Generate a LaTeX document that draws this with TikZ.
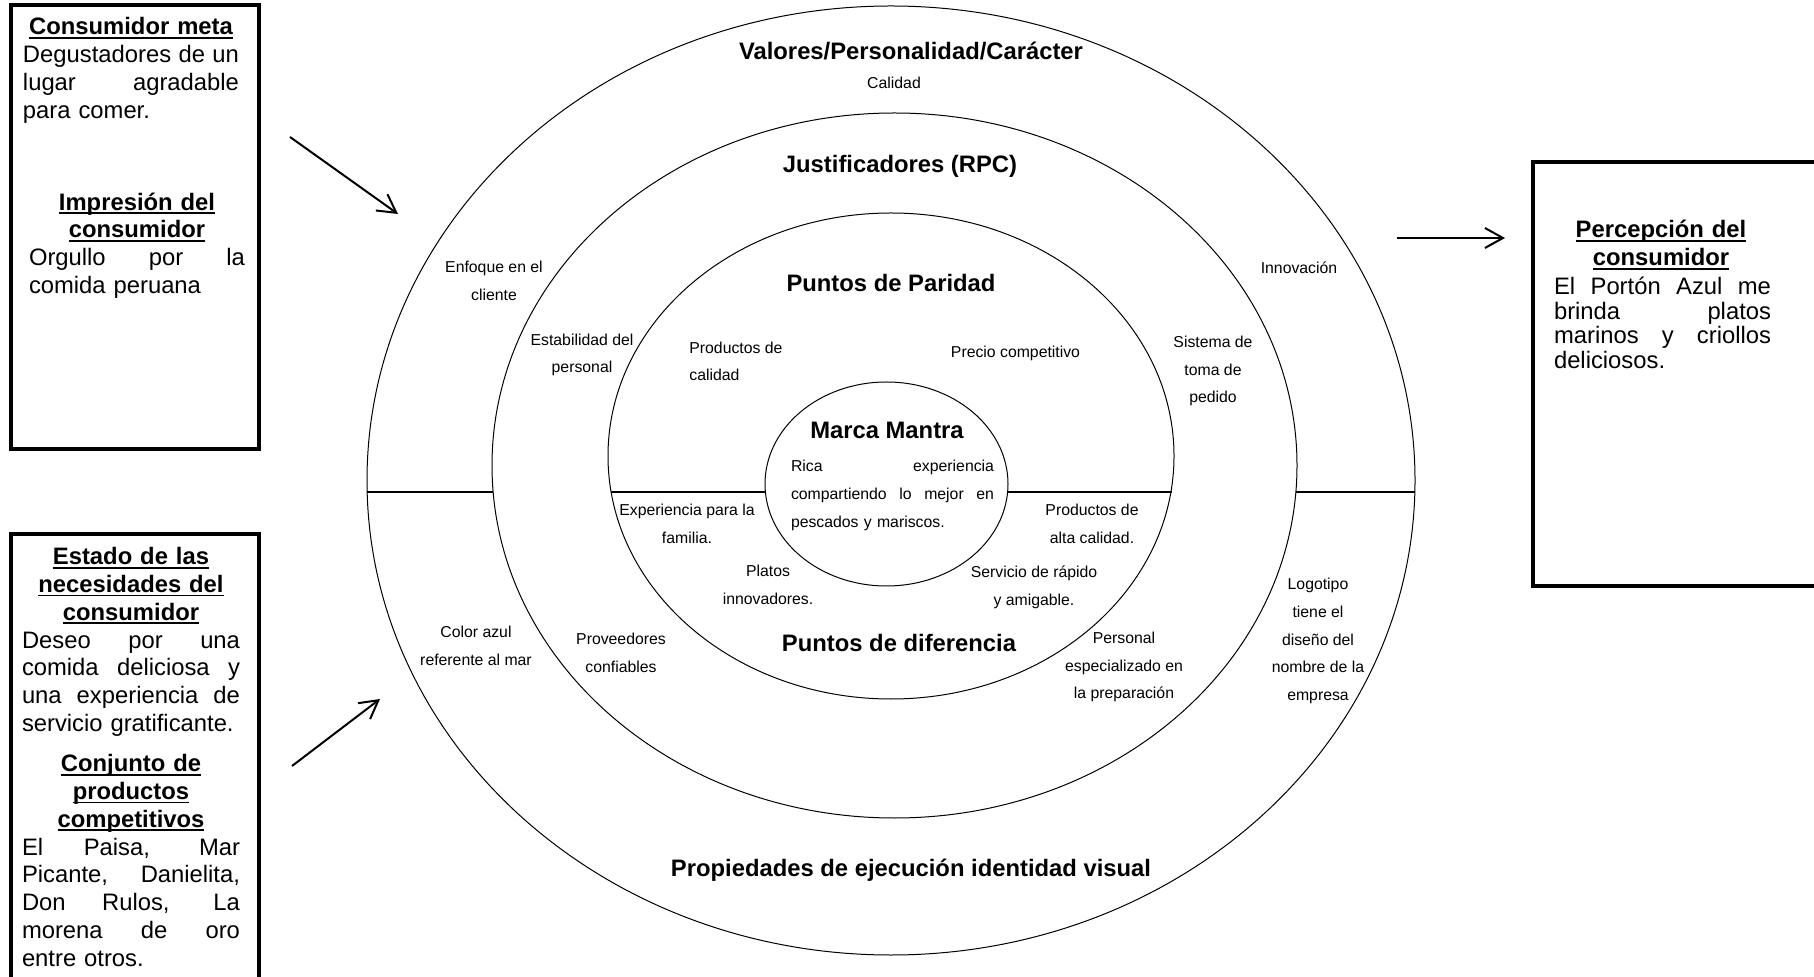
\documentclass[tikz,border=0pt]{standalone}
\usepackage{fontspec}
\setmainfont{Liberation Sans}
\usetikzlibrary{arrows.meta}

\newcommand{\subr}[1]{\setbox0=\hbox{#1}\rlap{\rule[-1.9pt]{\wd0}{0.9pt}}\box0}
\newcommand{\hd}[1]{\makebox[\linewidth][c]{\bfseries\subr{#1}}}
\newcommand{\jl}[1]{{\spaceskip=0pt\xspaceskip=0pt\makebox[\linewidth][s]{#1}}}

\begin{document}
\begin{tikzpicture}[
        x=0.5pt, y=-0.5pt,
        ring/.style={draw, line width=0.5pt},
        cut/.style={draw, line width=0.8pt},
        frame/.style={draw, line width=2.2pt, inner sep=0pt},
        title/.style={font=\fontsize{11.9}{13.9}\selectfont\bfseries, inner sep=0pt},
        small/.style={font=\fontsize{7.9}{13.85}\selectfont, align=center, inner sep=0pt},
        boxtext/.style={font=\fontsize{11.9}{13.9}\selectfont, text width=108pt, align=left, inner sep=0pt},
        arr/.style={-{Straight Barb[length=9pt, width=10pt]}, line width=1pt}
    ]
        \useasboundingbox (0,0) rectangle (1814,977);

        \draw[ring] (891,480.5) ellipse [x radius=262pt, y radius=237.25pt];
        \draw[ring] (894.5,465.5) ellipse [x radius=201.25pt, y radius=176.25pt];
        \draw[ring] (891,456) ellipse [x radius=141.5pt, y radius=121.5pt];
        \draw[ring] (886.5,484) ellipse [x radius=60.75pt, y radius=51pt];

        \coordinate (c1) at (367,492);
        \coordinate (c2) at (493,492);
        \coordinate (c3) at (611,492);
        \coordinate (c4) at (765.4,492);
        \coordinate (c5) at (1007.6,492);
        \coordinate (c6) at (1172,492);
        \coordinate (c7) at (1296,492);
        \coordinate (c8) at (1415,492);
        \draw[cut] (c1) -- (c2);
        \draw[cut] (c3) -- (c4);
        \draw[cut] (c5) -- (c6);
        \draw[cut] (c7) -- (c8);

        \node[title] (valores) at (911,51) {Valores/Personalidad/Carácter};
        \node[small] (calidad) at (894,83) {Calidad};
        \node[title] (justif) at (900,166) {Justificadores (RPC)};
        \node[title] (paridad) at (891,283) {Puntos de Paridad};
        \node[title] (mantra) at (887,430) {Marca Mantra};
        \node[title] (diferencia) at (899,643) {Puntos de diferencia};
        \node[title] (ejecucion) at (911,870) {Propiedades de ejecución identidad visual};

        \node[small] (enfoque) at (494,281) {Enfoque en el\\cliente};
        \node[small] (innovacion) at (1299,268) {Innovación};
        \node[small] (color) at (476,646) {Color azul\\referente al mar};
        \node[small] (logotipo) at (1318,641) {Logotipo\\tiene el\\diseño del\\nombre de la\\empresa};
        \node[small] (estabilidad) at (582,355) {Estabilidad del\\personal};
        \node[small] (sistema) at (1213,371) {Sistema de\\toma de\\pedido};
        \node[small] (proveedores) at (621,653) {Proveedores\\confiables};
        \node[small] (personal) at (1124,667) {Personal\\especializado en\\la preparación};
        \node[small, align=left, anchor=west] (prodcal) at (689,361.5) {Productos de\\calidad};
        \node[small] (precio) at (1015.5,353) {Precio competitivo};
        \node[small] (familia) at (687,524) {Experiencia para la\\familia.};
        \node[small] (platos) at (768,585) {Platos\\innovadores.};
        \node[small] (altacal) at (1092,524) {Productos de\\alta calidad.};
        \node[small] (servicio) at (1034,587) {Servicio de rápido\\y amigable.};
        \node[small, text width=101.5pt, align=left] (mantratxt) at (892.5,495.5)
            {\jl{Rica experiencia}\\\jl{compartiendo lo mejor en}\\pescados y mariscos.};

        \node[frame, minimum width=124pt, minimum height=222pt] (boxmeta) at (135,227) {};
        \node[frame, minimum width=124pt, minimum height=238pt] (boxestado) at (135,772) {};
        \node[frame, minimum width=153.5pt, minimum height=212pt] (boxpercep) at (1686.5,374) {};

        \node[boxtext] (meta) at (131,70.5)
            {\hd{Consumidor meta}\\\jl{Degustadores de un}\\\jl{lugar agradable}\\para comer.};
        \node[boxtext] (impresion) at (137,245.5)
            {\hd{Impresión del}\\\hd{consumidor}\\\jl{Orgullo por la}\\comida peruana};
        \node[boxtext, text width=109pt] (necesidades) at (131,642)
            {\hd{Estado de las}\\\hd{necesidades del}\\\hd{consumidor}\\\jl{Deseo por una}\\\jl{comida deliciosa y}\\\jl{una experiencia de}\\servicio gratificante.};
        \node[boxtext, text width=109pt] (competidores) at (131,860.5)
            {\hd{Conjunto de}\\\hd{productos}\\\hd{competitivos}\\\jl{El Paisa, Mar}\\\jl{Picante, Danielita,}\\\jl{Don Rulos, La}\\\jl{morena de oro}\\entre otros.};
        \node[boxtext, text width=108.5pt] (percephd) at (1661,245)
            {\hd{Percepción del}\\\hd{consumidor}};
        \node[boxtext, text width=108.5pt, font=\fontsize{11.9}{12.35}\selectfont] (percep) at (1662.5,323)
            {\jl{El Portón Azul me}\\\jl{brinda platos}\\\jl{marinos y criollos}\\deliciosos.};

        \coordinate (a1) at (290,137);
        \coordinate (b1) at (398,214);
        \coordinate (a2) at (292,766);
        \coordinate (b2) at (380,699);
        \coordinate (a3) at (1397,238);
        \coordinate (b3) at (1505,238);
        \draw[arr] (a1) -- (b1);
        \draw[arr] (a2) -- (b2);
        \draw[arr] (a3) -- (b3);
    \end{tikzpicture}
\end{document}
